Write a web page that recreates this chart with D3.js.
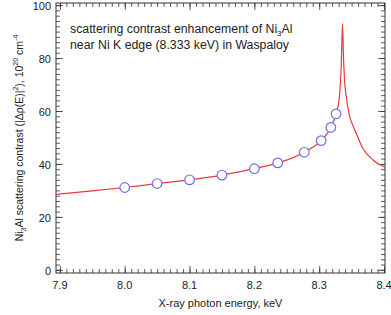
<!DOCTYPE html>
<html>
<head>
<meta charset="utf-8">
<script src="https://cdn.jsdelivr.net/npm/d3@7"></script>
<style>
  body { margin: 0; background: #fff; }
  svg { display: block; font-family: "Liberation Sans", Arial, sans-serif; }
</style>
</head>
<body>
<div id="chart"></div>
<script>
// curve (keV, 10^20 cm^-4)
const lineEnergy = [7.894, 7.95, 8.0, 8.05, 8.1, 8.15, 8.2, 8.236, 8.26, 8.277, 8.29, 8.303, 8.318, 8.326, 8.331, 8.334, 8.336, 8.3375, 8.339, 8.342, 8.347, 8.352, 8.358, 8.367, 8.383, 8.393, 8.402];
const lineContrast = [28.5, 29.8, 31.1, 32.6, 34.0, 35.8, 38.2, 40.4, 42.4, 44.4, 46.3, 48.8, 53.8, 58.9, 65.0, 77.0, 93.0, 80.0, 72.0, 65.0, 58.0, 54.5, 51.0, 46.0, 41.5, 39.8, 38.8];

// measured energies (circles)
const pointEnergy = [8.0, 8.05, 8.1, 8.15, 8.2, 8.236, 8.277, 8.303, 8.318, 8.326];
const pointContrast = [31.1, 32.6, 34.0, 35.8, 38.2, 40.4, 44.4, 48.8, 53.8, 58.9];

const xTicks = [7.9, 8.0, 8.1, 8.2, 8.3, 8.4];
const yTicks = [0, 20, 40, 60, 80, 100];

const W = 391, H = 315;
const m = { left: 56, right: 6, top: 3, bottom: 42 };

const svg = d3.select("#chart").append("svg")
    .attr("width", W).attr("height", H);

const x = d3.scaleLinear().domain([7.894, 8.4015]).range([m.left, W - m.right]);
const y = d3.scaleLinear().domain([-1.2, 100.8]).range([H - m.bottom, m.top]);

const textCol = "#222";

// ticks, all pointing inward
function tickSet(axisGen, values, size, g) {
    g.call(axisGen.tickValues(values).tickSize(size).tickFormat(""));
    g.select(".domain").remove();
    g.selectAll(".tick line").attr("stroke", "#333").attr("stroke-width", 0.8);
}
const xMinor = d3.range(790, 841).map(d => d / 100);
const yMinor = d3.range(0, 101, 2);

const frame = svg.append("g");
[[d3.axisTop(x), xTicks, 7, H - m.bottom], [d3.axisTop(x), xMinor, 4, H - m.bottom],
 [d3.axisBottom(x), xTicks, 7, m.top], [d3.axisBottom(x), xMinor, 4, m.top]].forEach(([a, v, s, ty]) => {
    tickSet(a, v, s, frame.append("g").attr("transform", `translate(0,${ty})`));
});
[[d3.axisRight(y), yTicks, 7, m.left], [d3.axisRight(y), yMinor, 4, m.left],
 [d3.axisLeft(y), yTicks, 7, W - m.right], [d3.axisLeft(y), yMinor, 4, W - m.right]].forEach(([a, v, s, tx]) => {
    tickSet(a, v, s, frame.append("g").attr("transform", `translate(${tx},0)`));
});

frame.append("rect")
    .attr("x", m.left).attr("y", m.top)
    .attr("width", W - m.right - m.left).attr("height", H - m.bottom - m.top)
    .attr("fill", "none").attr("stroke", "#333").attr("stroke-width", 1);

// tick labels
svg.append("g").selectAll("text").data(xTicks).enter().append("text")
    .attr("x", d => x(d)).attr("y", H - m.bottom + 16)
    .attr("text-anchor", "middle").attr("font-size", 11).attr("fill", textCol)
    .text(d => d.toFixed(1));
svg.append("g").selectAll("text").data(yTicks).enter().append("text")
    .attr("x", m.left - 5).attr("y", d => y(d) + 5)
    .attr("text-anchor", "end").attr("font-size", 11).attr("fill", textCol)
    .text(d => d);

// curve
const line = d3.line()
    .x(i => x(lineEnergy[i])).y(i => y(lineContrast[i]))
    .curve(d3.curveMonotoneX);
svg.append("path")
    .datum(d3.range(lineEnergy.length))
    .attr("d", line)
    .attr("fill", "none").attr("stroke", "#e8393c").attr("stroke-width", 1.2);

// circles
svg.append("g").selectAll("circle").data(d3.range(pointEnergy.length)).enter().append("circle")
    .attr("cx", i => x(pointEnergy[i])).attr("cy", i => y(pointContrast[i]))
    .attr("r", 4.8)
    .attr("fill", "#fff").attr("stroke", "#7070ee").attr("stroke-width", 1.2);

// title inside plot
const t1 = svg.append("text").attr("x", 70).attr("y", 33).attr("font-size", 12.3).attr("fill", textCol);
t1.append("tspan").text("scattering contrast enhancement of Ni");
t1.append("tspan").attr("font-size", 8).attr("dy", 3).text("3");
t1.append("tspan").attr("dy", -3).text("Al");
svg.append("text").attr("x", 70).attr("y", 49).attr("font-size", 12.3).attr("fill", textCol)
    .text("near Ni K edge (8.333 keV) in Waspaloy");

// axis titles
svg.append("text")
    .attr("x", (m.left + W - m.right) / 2).attr("y", H - 8)
    .attr("text-anchor", "middle").attr("font-size", 11).attr("fill", textCol)
    .text("X-ray photon energy, keV");

const yl = svg.append("text")
    .attr("transform", `translate(23,${(m.top + H - m.bottom) / 2}) rotate(-90)`)
    .attr("text-anchor", "middle").attr("font-size", 10.5).attr("fill", textCol);
yl.append("tspan").text("Ni");
yl.append("tspan").attr("font-size", 7).attr("dy", 3).text("3");
yl.append("tspan").attr("dy", -3).text("Al scattering contrast (|Δρ(E)|");
yl.append("tspan").attr("font-size", 7).attr("dy", -5).text("2");
yl.append("tspan").attr("dy", 5).text("), 10");
yl.append("tspan").attr("font-size", 7).attr("dy", -5).text("20");
yl.append("tspan").attr("dy", 5).text(" cm");
yl.append("tspan").attr("font-size", 7).attr("dy", -5).text("-4");
</script>
</body>
</html>
